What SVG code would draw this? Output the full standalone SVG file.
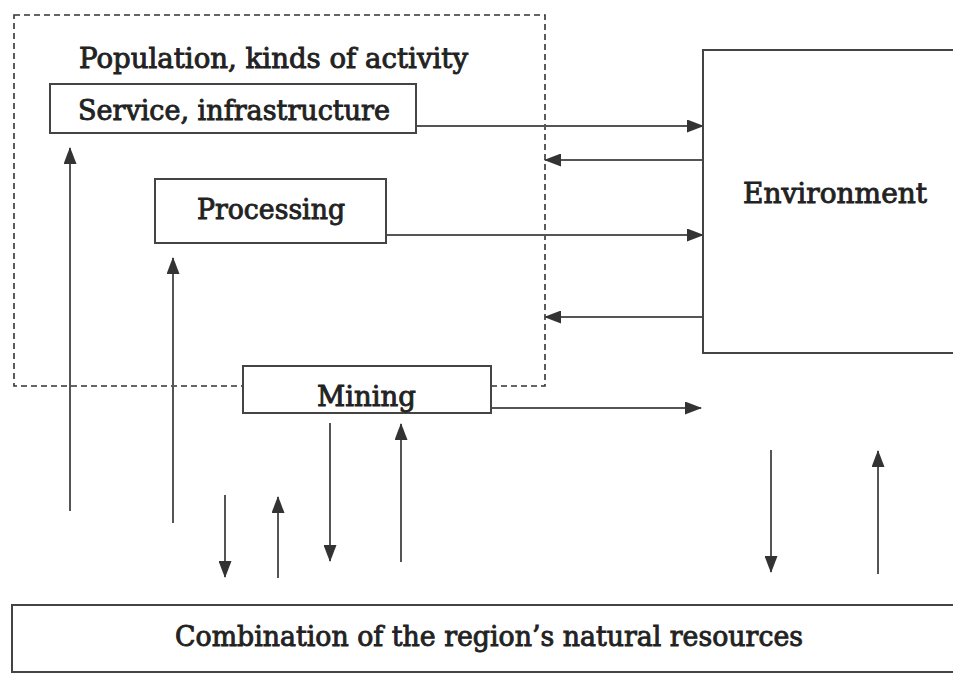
<svg xmlns="http://www.w3.org/2000/svg" width="953" height="675" viewBox="0 0 953 675">
<style>
.box{fill:#fff;stroke:#444;stroke-width:2}
.dash{fill:none;stroke:#333;stroke-width:1.6;stroke-dasharray:6 4}
.t{font-family:"DejaVu Serif","Liberation Serif",serif;font-size:27px;fill:#222;stroke:#222;stroke-width:0.9}
.c{fill:none;stroke:#555;stroke-width:2;marker-end:url(#ah)}
</style>
<defs>
<marker id="ah" markerUnits="userSpaceOnUse" markerWidth="17" markerHeight="13" refX="16" refY="6.5" orient="auto">
<path d="M0,0 L17,6.5 L0,13 Z" fill="#333"/>
</marker>
</defs>
<rect width="953" height="675" fill="#fff"/>
<g id="activity">
<rect class="dash" x="14" y="15" width="531" height="371"/>
<text class="t" x="79" y="68" textLength="389" lengthAdjust="spacingAndGlyphs">Population, kinds of activity</text>
</g>
<g id="connectors">
<line class="c" x1="417" y1="126" x2="703" y2="126"/>
<line class="c" x1="703" y1="160" x2="545" y2="160"/>
<line class="c" x1="386" y1="235" x2="703" y2="235"/>
<line class="c" x1="703" y1="317" x2="545" y2="317"/>
<line class="c" x1="491" y1="408" x2="701" y2="408"/>
<line class="c" x1="70" y1="511" x2="70" y2="148"/>
<line class="c" x1="173" y1="523" x2="173" y2="258"/>
<line class="c" x1="225" y1="495" x2="225" y2="577"/>
<line class="c" x1="278" y1="578" x2="278" y2="497"/>
<line class="c" x1="330" y1="423" x2="330" y2="561"/>
<line class="c" x1="401" y1="562" x2="401" y2="424"/>
<line class="c" x1="771" y1="450" x2="771" y2="572"/>
<line class="c" x1="878" y1="574" x2="878" y2="451"/>
</g>
<g id="service">
<rect class="box" x="50" y="84" width="366" height="49"/>
<text class="t" x="78" y="120" textLength="312" lengthAdjust="spacingAndGlyphs">Service, infrastructure</text>
</g>
<g id="processing">
<rect class="box" x="155" y="179" width="231" height="64"/>
<text class="t" x="197" y="219" textLength="148" lengthAdjust="spacingAndGlyphs">Processing</text>
</g>
<g id="mining">
<rect class="box" x="243" y="366" width="248" height="47"/>
<text class="t" x="317" y="406" textLength="99" lengthAdjust="spacingAndGlyphs">Mining</text>
</g>
<g id="environment">
<rect class="box" x="703" y="50" width="260" height="303"/>
<text class="t" x="743" y="203" textLength="184" lengthAdjust="spacingAndGlyphs">Environment</text>
</g>
<g id="resources">
<rect class="box" x="12" y="605" width="950" height="67"/>
<text class="t" x="175" y="646" textLength="628" lengthAdjust="spacingAndGlyphs">Combination of the region’s natural resources</text>
</g>
</svg>
